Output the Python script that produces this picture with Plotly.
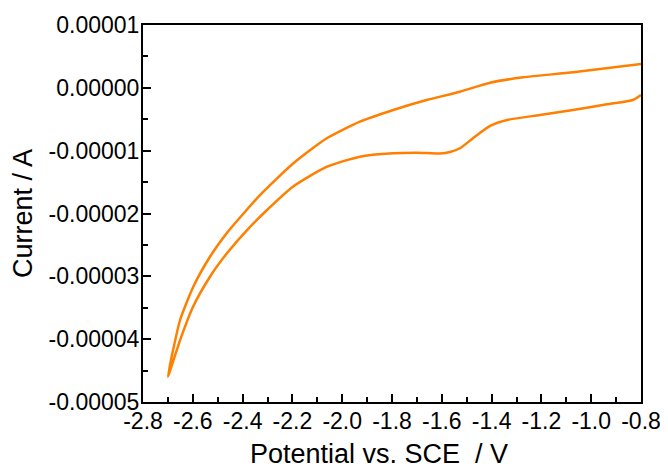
import plotly.graph_objects as go

# Forward (cathodic) scan: -0.8 V -> -2.7 V
forward_potential = [-0.800, -0.832, -0.937, -1.073, -1.206, -1.338, -1.406, -1.475, -1.527,
                     -1.567, -1.607, -1.700, -1.796, -1.929, -2.061, -2.198, -2.302, -2.382,
                     -2.463, -2.531, -2.599, -2.651, -2.700]
forward_current = [-0.114e-5, -0.194e-5, -0.262e-5, -0.353e-5, -0.432e-5, -0.512e-5, -0.607e-5,
                   -0.803e-5, -0.962e-5, -1.021e-5, -1.045e-5, -1.032e-5, -1.042e-5, -1.096e-5,
                   -1.255e-5, -1.574e-5, -1.944e-5, -2.263e-5, -2.634e-5, -3.006e-5, -3.484e-5,
                   -4.014e-5, -4.598e-5]

# Reverse scan: -2.7 V -> -0.8 V
reverse_potential = [-2.700, -2.679, -2.651, -2.598, -2.531, -2.464, -2.384, -2.330, -2.196,
                     -2.062, -1.929, -1.795, -1.661, -1.527, -1.406, -1.273, -1.072, -0.800]
reverse_current = [-4.598e-5, -4.170e-5, -3.695e-5, -3.165e-5, -2.688e-5, -2.315e-5, -1.944e-5,
                   -1.706e-5, -1.201e-5, -0.803e-5, -0.539e-5, -0.353e-5, -0.194e-5, -0.062e-5,
                   0.082e-5, 0.168e-5, 0.247e-5, 0.379e-5]

x_tickvals = [-2.8, -2.6, -2.4, -2.2, -2.0, -1.8, -1.6, -1.4, -1.2, -1.0, -0.8]
x_ticktext = ["-2.8", "-2.6", "-2.4", "-2.2", "-2.0", "-1.8", "-1.6", "-1.4", "-1.2", "-1.0", "-0.8"]
y_tickvals = [-5e-5, -4e-5, -3e-5, -2e-5, -1e-5, 0, 1e-5]
y_ticktext = ["-0.00005", "-0.00004", "-0.00003", "-0.00002", "-0.00001", "0.00000", "0.00001"]

potential = forward_potential + reverse_potential[1:]
current = forward_current + reverse_current[1:]

fig = go.Figure()
fig.add_trace(go.Scatter(
    x=potential, y=current, mode="lines",
    line=dict(color="#FF7F00", width=2.5, shape="spline", smoothing=0.6),
    showlegend=False, hoverinfo="skip",
))

font_family = "Liberation Sans, Arial, sans-serif"

# the page body adds an 8px margin, so the figure is 8px smaller and shifted accordingly
fig.update_layout(
    width=660, height=460,
    margin=dict(l=135, r=27, t=17, b=66, autoexpand=False),
    paper_bgcolor="white", plot_bgcolor="white",
    font=dict(family=font_family, color="black", size=23),
    showlegend=False,
    annotations=[dict(
        text="Potential vs. SCE\u00a0\u00a0/ V", xref="paper", yref="paper",
        x=0.474, y=-0.137, xanchor="center", yanchor="middle", showarrow=False,
        font=dict(family=font_family, size=27, color="black"),
    )],
)

fig.update_xaxes(
    range=[-2.8, -0.8], tickmode="array", tickvals=x_tickvals, ticktext=x_ticktext,
    showline=True, linecolor="black", linewidth=2, mirror=True,
    ticks="inside", ticklen=8, tickwidth=2, tickcolor="black",
    minor=dict(ticks="inside", ticklen=5, tickwidth=2, tickcolor="black", tickmode="linear", tick0=-2.8, dtick=0.1),
    showgrid=False, zeroline=False, ticklabelstandoff=-3,
    tickfont=dict(size=23, family=font_family),
)
fig.update_yaxes(
    range=[-5e-5, 1e-5], tickmode="array", tickvals=y_tickvals, ticktext=y_ticktext,
    showline=True, linecolor="black", linewidth=2, mirror=True,
    ticks="inside", ticklen=8, tickwidth=2, tickcolor="black",
    minor=dict(ticks="inside", ticklen=5, tickwidth=2, tickcolor="black", tickmode="linear", tick0=-5e-5, dtick=0.5e-5),
    showgrid=False, zeroline=False, ticklabelstandoff=-3,
    tickfont=dict(size=23, family=font_family),
    title=dict(text="Current / A", font=dict(size=27, family=font_family), standoff=8),
)

fig.write_html("out.html")
